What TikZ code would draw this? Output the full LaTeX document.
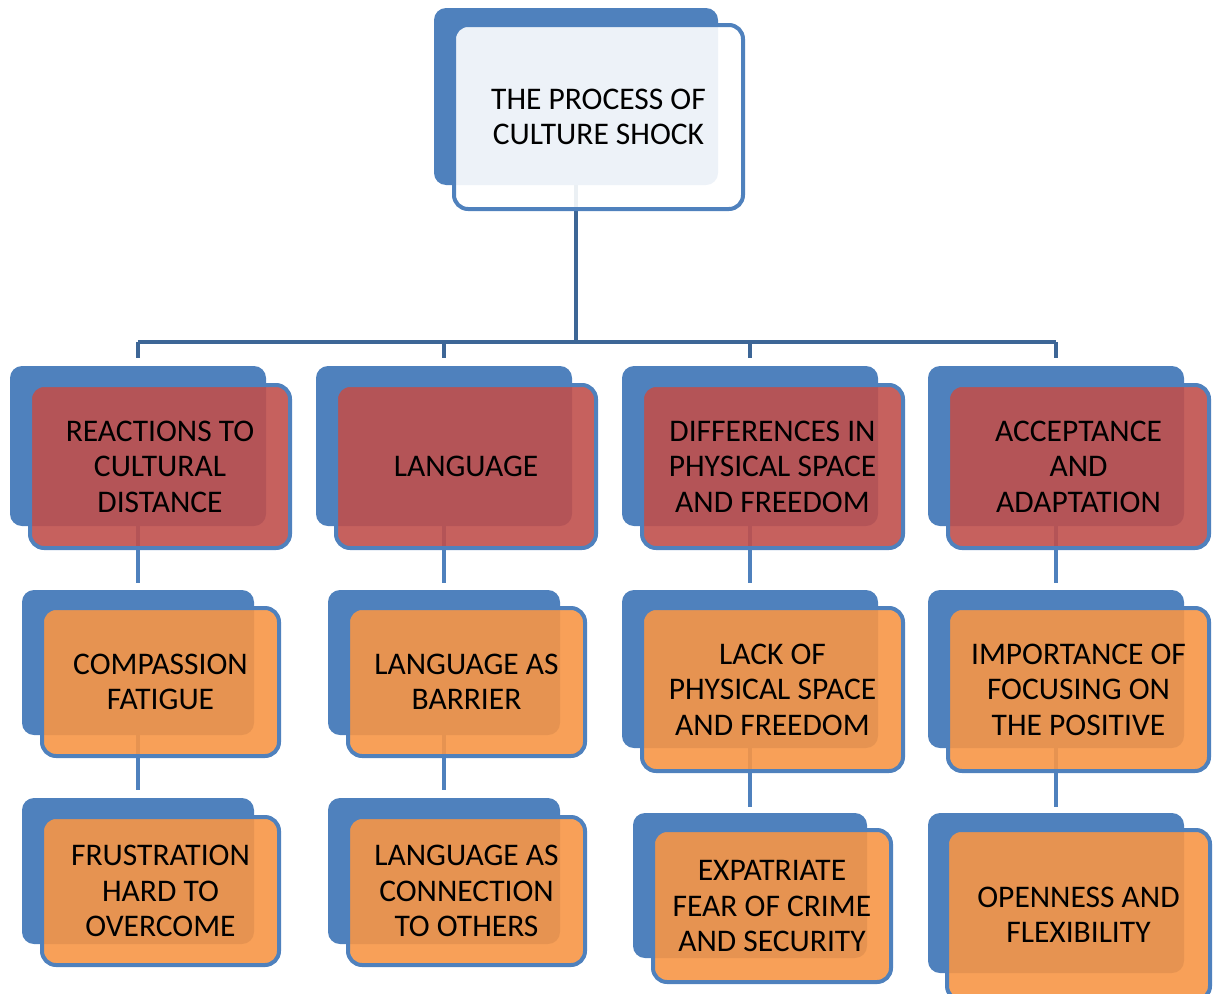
\documentclass[tikz,border=0pt]{standalone}
\usepackage{fontspec}
\setmainfont{Carlito}
\definecolor{cblue}{RGB}{79,129,189}
\definecolor{cline}{RGB}{61,102,150}
\definecolor{cred}{RGB}{192,80,77}
\definecolor{corange}{RGB}{247,150,70}

\begin{document}
\begin{tikzpicture}[x=1pt,y=-1pt,
  back/.style={fill=cblue, rounded corners=12pt, inner sep=0pt},
  card/.style={draw=cblue, line width=4pt, rounded corners=14pt, fill opacity=0.9,
    text opacity=1, align=center, inner sep=0pt, font=\fontsize{31.5}{35.5}\selectfont},
  topcard/.style={card, fill=white},
  redcard/.style={card, fill=cred},
  orangecard/.style={card, fill=corange},
  link/.style={cline, line width=4.5pt},
  sublink/.style={cblue, line width=4.5pt}]
  \useasboundingbox (0,0) rectangle (1217,993);

  % Back boxes
  \node[back, minimum width=284pt, minimum height=177pt] (shockbk) at (576,96.5) {};

  \node[back, minimum width=256pt, minimum height=160pt] (reacbk) at (138,446) {};
  \node[back, minimum width=256pt, minimum height=160pt] (langbk) at (444,446) {};
  \node[back, minimum width=256pt, minimum height=160pt] (diffbk) at (750,446) {};
  \node[back, minimum width=256pt, minimum height=160pt] (accbk) at (1056,446) {};

  \node[back, minimum width=232pt, minimum height=145pt] (fatiguebk) at (138,662.5) {};
  \node[back, minimum width=232pt, minimum height=145pt] (barrierbk) at (444,662.5) {};
  \node[back, minimum width=256pt, minimum height=158pt] (lackbk) at (750,669) {};
  \node[back, minimum width=256pt, minimum height=158pt] (positivebk) at (1056,669) {};

  \node[back, minimum width=232pt, minimum height=146pt] (frustbk) at (138,871) {};
  \node[back, minimum width=232pt, minimum height=146pt] (connectbk) at (444,871) {};
  \node[back, minimum width=234pt, minimum height=145pt] (fearbk) at (750,885.5) {};
  \node[back, minimum width=256pt, minimum height=160pt] (openbk) at (1056,893) {};

  % Connectors
  \coordinate (bus) at (576,342);
  \draw[link] (shockbk.south) -- (bus);
  \draw[link] (reacbk.north |- bus) -- (accbk.north |- bus);
  \draw[link, shorten >=8pt] (reacbk.north |- bus) -- (reacbk.north);
  \draw[link, shorten >=8pt] (langbk.north |- bus) -- (langbk.north);
  \draw[link, shorten >=8pt] (diffbk.north |- bus) -- (diffbk.north);
  \draw[link, shorten >=8pt] (accbk.north |- bus) -- (accbk.north);

  \draw[sublink, shorten >=7pt] (reacbk.south) -- (fatiguebk.north);
  \draw[sublink, shorten >=7pt] (langbk.south) -- (barrierbk.north);
  \draw[sublink, shorten >=7pt] (diffbk.south) -- (lackbk.north);
  \draw[sublink, shorten >=7pt] (accbk.south) -- (positivebk.north);

  \draw[sublink, shorten >=8pt] (fatiguebk.south) -- (frustbk.north);
  \draw[sublink, shorten >=8pt] (barrierbk.south) -- (connectbk.north);
  \draw[sublink, shorten >=6pt] (lackbk.south) -- (fearbk.north);
  \draw[sublink, shorten >=6pt] (positivebk.south) -- (openbk.north);

  % Front boxes
  \node[topcard, minimum width=289pt, minimum height=184pt] (shock) at (598.5,117)
    {THE PROCESS OF\\CULTURE SHOCK};

  \node[redcard, minimum width=260pt, minimum height=163pt] (reac) at (160,466.5)
    {REACTIONS TO\\CULTURAL\\DISTANCE};
  \node[redcard, minimum width=260pt, minimum height=163pt] (lang) at (466,466.5)
    {LANGUAGE};
  \node[redcard, minimum width=261pt, minimum height=163pt] (diff) at (772.5,466.5)
    {DIFFERENCES IN\\PHYSICAL SPACE\\AND FREEDOM};
  \node[redcard, minimum width=261pt, minimum height=163pt] (acc) at (1078.5,466.5)
    {ACCEPTANCE\\AND\\ADAPTATION};

  \node[orangecard, minimum width=237pt, minimum height=148pt] (fatigue) at (160.5,682)
    {COMPASSION\\FATIGUE};
  \node[orangecard, minimum width=237pt, minimum height=148pt] (barrier) at (466.5,682)
    {LANGUAGE AS\\BARRIER};
  \node[orangecard, minimum width=261pt, minimum height=163pt] (lack) at (772.5,689.5)
    {LACK OF\\PHYSICAL SPACE\\AND FREEDOM};
  \node[orangecard, minimum width=261pt, minimum height=163pt] (positive) at (1078.5,689.5)
    {IMPORTANCE OF\\FOCUSING ON\\THE POSITIVE};

  \node[orangecard, minimum width=237pt, minimum height=148pt] (frust) at (160.5,891)
    {FRUSTRATION\\HARD TO\\OVERCOME};
  \node[orangecard, minimum width=237pt, minimum height=148pt] (connect) at (466.5,891)
    {LANGUAGE AS\\CONNECTION\\TO OTHERS};
  \node[orangecard, minimum width=238pt, minimum height=152pt] (fear) at (772,906)
    {EXPATRIATE\\FEAR OF CRIME\\AND SECURITY};
  \node[orangecard, minimum width=263pt, minimum height=170pt] (open) at (1078.5,915)
    {OPENNESS AND\\FLEXIBILITY};
\end{tikzpicture}
\end{document}
